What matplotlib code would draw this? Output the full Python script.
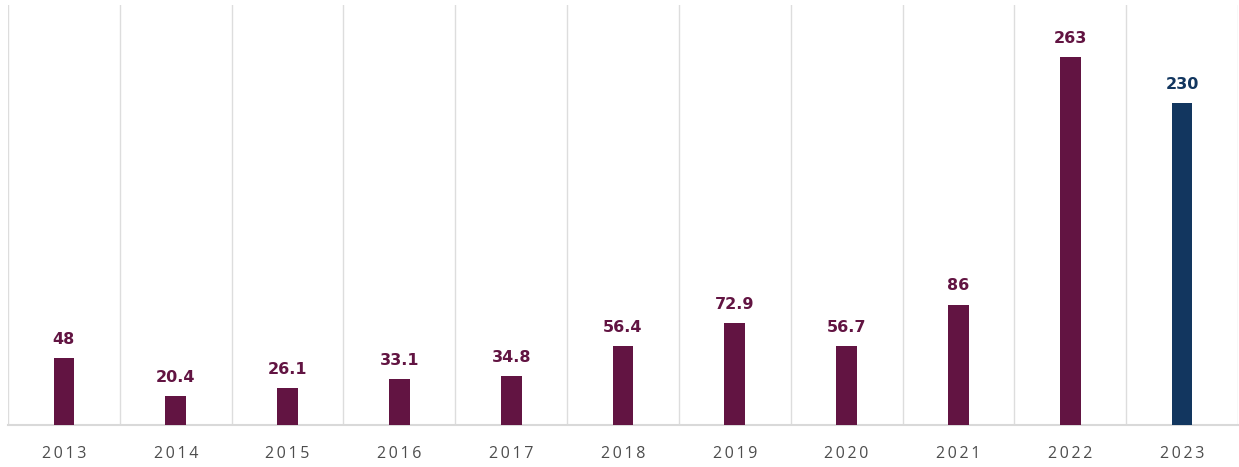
import matplotlib
matplotlib.use("Agg")
import matplotlib.pyplot as plt

years = ["2013", "2014", "2015", "2016", "2017", "2018", "2019", "2020", "2021", "2022", "2023"]
values = [48, 20.4, 26.1, 33.1, 34.8, 56.4, 72.9, 56.7, 86, 263, 230]
labels = ["48", "20.4", "26.1", "33.1", "34.8", "56.4", "72.9", "56.7", "86", "263", "230"]
colors = ["#621442"] * 10 + ["#12365F"]

plt.rcParams['font.family'] = ['Open Sans', 'DejaVu Sans']

fig = plt.figure(figsize=(12.39, 4.67), dpi=100)
ax = fig.add_axes([8/1239, 42/467, 1230/1239, 420/467])
x = list(range(len(years)))
ax.bar(x, values, width=0.185, color=colors, zorder=3)
for xi, v, lab, c in zip(x, values, labels, colors):
    ax.annotate(lab, (xi, v), xytext=(0, 8), textcoords="offset points",
                ha="center", va="bottom", fontsize=11.5, fontweight="bold", color=c,
                family=['DejaVu Sans'])
ax.set_xlim(-0.5, len(years) - 0.5)
ax.set_ylim(0, 300)
for b in range(len(years) + 1):
    ax.axvline(b - 0.5, color="#dddddd", lw=1, zorder=1)
for s in ["top", "right", "left"]:
    ax.spines[s].set_visible(False)
ax.spines["bottom"].set_color("#d9d9d9")
ax.spines["bottom"].set_linewidth(1.5)
ax.set_yticks([])
ax.set_xticks(x)
ax.set_xticklabels(["\u2009".join(y) for y in years], fontsize=11.5, color="#4d4d4d")
ax.tick_params(axis="x", length=0, pad=15)
fig.savefig("out.png", dpi=100)
